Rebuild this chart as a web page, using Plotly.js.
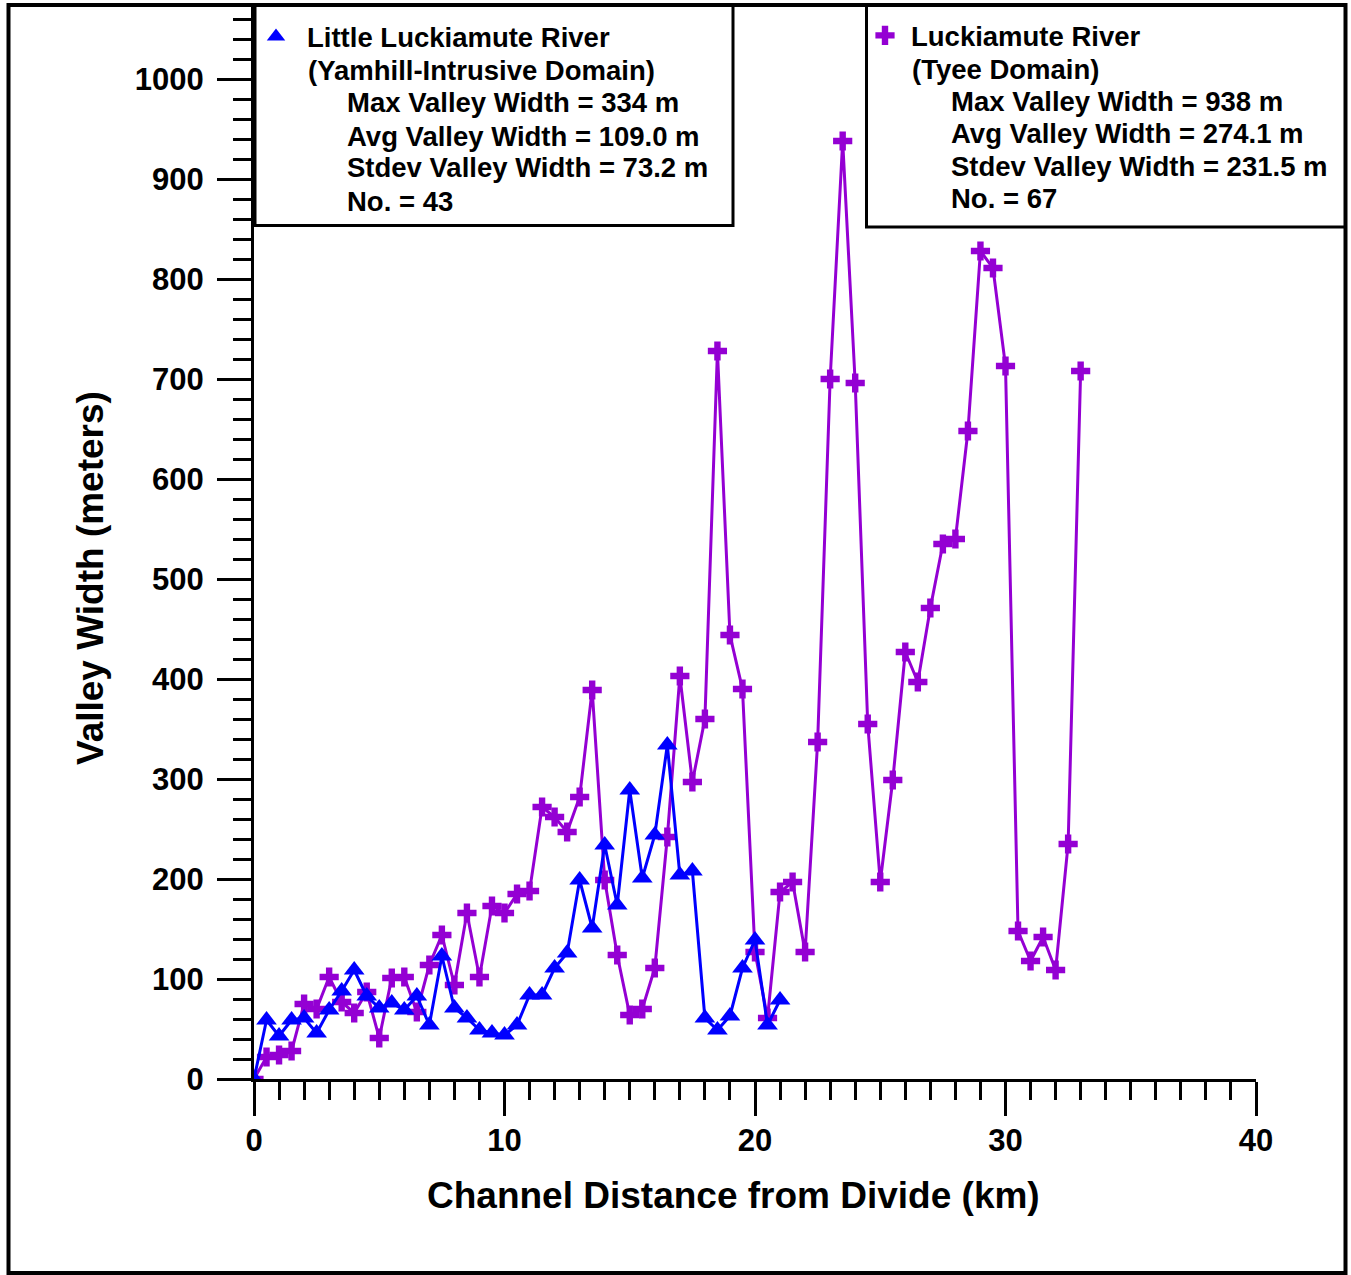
<!DOCTYPE html>
<html>
<head>
<meta charset="utf-8">
<script src="https://cdn.plot.ly/plotly-3.0.1.min.js"></script>
<style>html,body{margin:0;padding:0;background:#fff;}</style>
</head>
<body>
<div id="chart" style="width:1351px;height:1275px;"></div>
<script>
// ---- Data ----
var littleDist = [0, 0.5, 1, 1.5, 2, 2.5, 3, 3.5, 4, 4.5, 5, 5.5, 6, 6.5, 7, 7.5, 8, 8.5, 9, 9.5,
  10, 10.5, 11, 11.5, 12, 12.5, 13, 13.5, 14, 14.5, 15, 15.5, 16, 16.5, 17, 17.5, 18, 18.5, 19, 19.5,
  20, 20.5, 21];
var littleWidth = [0, 59, 43, 59, 61, 46, 69, 88, 109, 83, 71, 76, 69, 83, 54, 123, 71, 61, 49, 46,
  44, 54, 84, 84, 111, 126, 199, 151, 234, 174, 289, 201, 244, 334, 204, 208, 61, 49, 63, 111,
  139, 54, 79];

var luckDist = [0, 0.5, 1, 1.5, 2, 2.5, 3, 3.5, 4, 4.5, 5, 5.5, 6, 6.5, 7, 7.5, 8, 8.5, 9, 9.5,
  10, 10.5, 11, 11.5, 12, 12.5, 13, 13.5, 14, 14.5, 15, 15.5, 16, 16.5, 17, 17.5, 18, 18.5, 19, 19.5,
  20, 20.5, 21, 21.5, 22, 22.5, 23, 23.5, 24, 24.5, 25, 25.5, 26, 26.5, 27, 27.5, 28, 28.5, 29, 29.5,
  30, 30.5, 31, 31.5, 32, 32.5, 33];
var luckWidth = [0, 22, 24, 28, 75, 70, 102, 77, 66, 87, 41, 101, 102, 67, 114, 144, 94, 166, 102, 173,
  166, 185, 188, 272, 262, 247, 282, 389, 199, 124, 64, 70, 111, 242, 403, 297, 360, 728, 444, 390,
  127, 61, 187, 197, 127, 337, 700, 938, 696, 355, 197, 299, 427, 397, 471, 535, 540, 648, 828, 811,
  713, 148, 118, 142, 109, 235, 708];

var littleName = "Little Luckiamute River";
var littleLines = ["(Yamhill-Intrusive Domain)", "Max Valley Width = 334 m", "Avg Valley Width = 109.0 m",
  "Stdev Valley Width = 73.2 m", "No. = 43"];
var luckName = "Luckiamute River";
var luckLines = ["(Tyee Domain)", "Max Valley Width = 938 m", "Avg Valley Width = 274.1 m",
  "Stdev Valley Width = 231.5 m", "No. = 67"];

var xTitle = "Channel Distance from Divide (km)";
var yTitle = "Valley Width (meters)";

// ---- Layout geometry ----
var W = 1351, H = 1275;
var L = 254, R = 1256, T = 5, B = 1079;
var yMax = 1074;
function px2x(px) { return (px - L) / (R - L); }
function px2y(py) { return (B - py) / (B - T); }

var FONT = "Liberation Sans, Arial, Helvetica, sans-serif";
var PURPLE = "#9400D3";
var BLUE = "#0000FF";

var traces = [
  {x: luckDist, y: luckWidth, mode: "lines", line: {color: PURPLE, width: 3}, showlegend: false, hoverinfo: "skip"},
  {x: luckDist, y: luckWidth, mode: "markers", name: luckName, legend: "legend2",
   marker: {symbol: "cross", size: 16, color: PURPLE, line: {width: 0}}},
  {x: littleDist, y: littleWidth, mode: "lines", line: {color: BLUE, width: 3}, showlegend: false, hoverinfo: "skip"},
  {x: littleDist, y: littleWidth, mode: "markers", name: littleName, legend: "legend",
   marker: {symbol: "triangle-up", size: 18, color: BLUE, line: {width: 0}}}
];

var annotations = [];
var leftY = [70, 103, 136, 168, 201];
var leftX = [306, 345, 345, 345, 345];
littleLines.forEach(function (t, i) {
  annotations.push({text: t, xref: "paper", yref: "paper", x: px2x(leftX[i]), y: px2y(leftY[i]),
    xanchor: "left", yanchor: "middle", showarrow: false,
    font: {family: FONT, size: 27.5, weight: "bold", color: "#000"}});
});
var rightY = [69, 101, 133, 166, 198];
var rightX = [910, 949, 949, 949, 949];
luckLines.forEach(function (t, i) {
  annotations.push({text: t, xref: "paper", yref: "paper", x: px2x(rightX[i]), y: px2y(rightY[i]),
    xanchor: "left", yanchor: "middle", showarrow: false,
    font: {family: FONT, size: 27.5, weight: "bold", color: "#000"}});
});
// axis titles (placed off-centre, as in the reference)
annotations.push({text: xTitle, xref: "paper", yref: "paper", x: px2x(733), y: px2y(1195),
  xanchor: "center", yanchor: "middle", showarrow: false,
  font: {family: FONT, size: 37, weight: "bold", color: "#000"}});
annotations.push({text: yTitle, xref: "paper", yref: "paper", x: px2x(90), y: px2y(578),
  xanchor: "center", yanchor: "middle", showarrow: false, textangle: -90,
  font: {family: FONT, size: 37, weight: "bold", color: "#000"}});

var shapes = [
  {type: "rect", xref: "paper", yref: "paper", x0: px2x(8.5), x1: px2x(1345.5), y0: px2y(1273), y1: px2y(5),
   line: {color: "#000", width: 4}, fillcolor: "rgba(0,0,0,0)", layer: "above"},
  {type: "rect", xref: "paper", yref: "paper", x0: px2x(255), x1: px2x(733), y0: px2y(225.5), y1: px2y(5),
   line: {color: "#000", width: 3}, fillcolor: "#fff", layer: "below"},
  {type: "rect", xref: "paper", yref: "paper", x0: px2x(866.5), x1: px2x(1345.5), y0: px2y(227), y1: px2y(5),
   line: {color: "#000", width: 3}, fillcolor: "#fff", layer: "below"}
];

var axisCommon = {
  showline: true, linewidth: 3, linecolor: "#000", mirror: false,
  showgrid: false, zeroline: false,
  ticks: "outside", ticklen: 34, tickwidth: 3, tickcolor: "#000",
  tickfont: {family: FONT, size: 31, weight: "bold", color: "#000"},
  fixedrange: true
};

var layout = {
  width: W, height: H,
  margin: {l: L, r: W - R, t: T, b: H - B, pad: 0},
  paper_bgcolor: "#fff", plot_bgcolor: "#fff",
  font: {family: FONT, color: "#000"},
  xaxis: Object.assign({}, axisCommon, {
    range: [0, 40], tick0: 0, dtick: 10, ticklabelstandoff: -2,
    minor: {dtick: 1, ticks: "outside", ticklen: 18, tickwidth: 3, tickcolor: "#000", showgrid: false}
  }),
  yaxis: Object.assign({}, axisCommon, {
    range: [0, yMax], tick0: 0, dtick: 100, ticklabelstandoff: 7,
    minor: {dtick: 20, ticks: "outside", ticklen: 18, tickwidth: 3, tickcolor: "#000", showgrid: false}
  }),
  legend: {x: px2x(245), y: px2y(12), xanchor: "left", yanchor: "top", bgcolor: "rgba(0,0,0,0)",
    borderwidth: 0, itemwidth: 52, font: {family: FONT, size: 27.5, weight: "bold", color: "#000"}},
  legend2: {x: px2x(859), y: px2y(11), xanchor: "left", yanchor: "top", bgcolor: "rgba(0,0,0,0)",
    borderwidth: 0, itemwidth: 42, font: {family: FONT, size: 27.5, weight: "bold", color: "#000"}},
  annotations: annotations,
  shapes: shapes,
  showlegend: true
};

Plotly.newPlot("chart", traces, layout, {displayModeBar: false, staticPlot: true});
</script>
</body>
</html>
